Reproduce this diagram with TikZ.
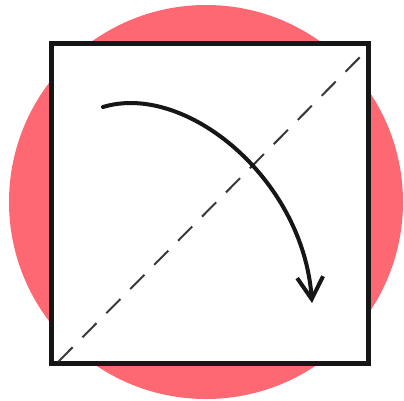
\documentclass[tikz,border=0pt]{standalone}
\usetikzlibrary{arrows.meta}

\definecolor{disc}{RGB}{253,104,114}
\definecolor{pen}{RGB}{22,22,22}

\begin{document}
\begin{tikzpicture}[x=1pt, y=-1pt, font=\sffamily,
  disk/.style={circle, fill=disc, inner sep=0pt, minimum size=394pt},
  frame/.style={draw=pen, fill=white, line width=5pt, inner sep=0pt, minimum width=317pt, minimum height=320pt},
  diag/.style={draw=pen!85, line width=2pt, dash pattern=on 20pt off 14pt},
  swing/.style={draw=pen, line width=4pt, line cap=round, -{Straight Barb[length=22pt, width=26pt, line width=4pt]}}]
\useasboundingbox (0,0) rectangle (404,400);
\node[disk] (bg) at (206,202) {};
\node[frame] (sq) at (209.5,203) {};
\draw[diag] ([shift={(10pt,4pt)}]sq.south west) -- ([shift={(-3pt,-9pt)}]sq.north east);
\coordinate (from) at (103,107);
\coordinate (to) at (312,303);
\draw[swing] (from) .. controls (185,82) and (303,178) .. (to);
\end{tikzpicture}
\end{document}
